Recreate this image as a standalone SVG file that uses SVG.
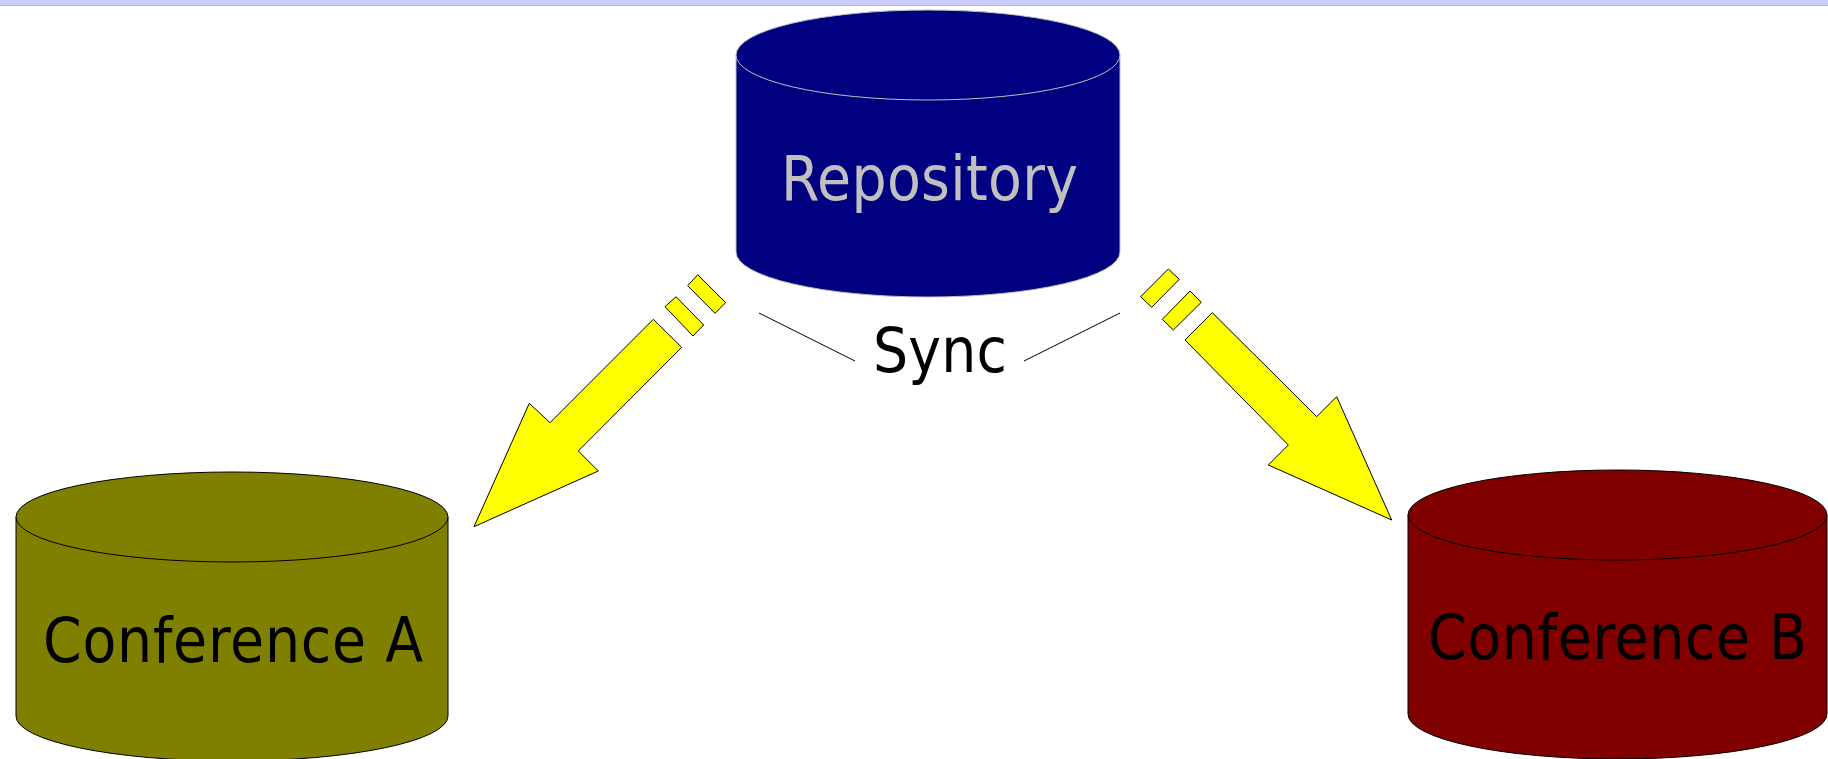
<svg xmlns="http://www.w3.org/2000/svg" width="1828" height="759" viewBox="0 0 1828 759">
<style>
.lbl{font-family:"DejaVu Sans Condensed","DejaVu Sans",sans-serif;font-size:61.5px;text-anchor:middle}
.arrow{fill:#ffff00;stroke:#000;stroke-width:1}
.line{stroke:#000;stroke-width:1;fill:none}
</style>
<rect x="0" y="0" width="1828" height="5" fill="#ccccff"/>
<line x1="0" y1="5.5" x2="1828" y2="5.5" stroke="#b4b4cc" stroke-width="1"/>
<g id="repository">
<path d="M736,55 L736,252 A192,45 0 0 0 1120,252 L1120,55 Z" fill="#000080" stroke="#c0c0c0" stroke-width="1"/>
<ellipse cx="928" cy="55" rx="192" ry="45" fill="#000080" stroke="#c0c0c0" stroke-width="1"/>
<text class="lbl" x="929.5" y="200" fill="#c0c0c0" textLength="297">Repository</text>
</g>
<g id="conference-a">
<path d="M16,517 L16,716 A216,45 0 0 0 448,716 L448,517 Z" fill="#808000" stroke="#000" stroke-width="1"/>
<ellipse cx="232" cy="517" rx="216" ry="45" fill="#808000" stroke="#000" stroke-width="1"/>
<text class="lbl" x="233" y="662" fill="#000" textLength="380">Conference A</text>
</g>
<g id="conference-b">
<path d="M1408,515 L1408,714 A209.5,45 0 0 0 1827,714 L1827,515 Z" fill="#800000" stroke="#000" stroke-width="1"/>
<ellipse cx="1617.5" cy="515" rx="209.5" ry="45" fill="#800000" stroke="#000" stroke-width="1"/>
<text class="lbl" x="1617.5" y="659" fill="#000" textLength="379">Conference B</text>
</g>
<g id="connectors">
<g id="arrow-a">
<polygon class="arrow" points="653.3,319.3 681.7,347.3 578.3,451 598.3,471 474,526.7 529.3,403.3 550,422.7"/>
<polygon class="arrow" points="665,306.7 676,296.7 703.7,325 693,336"/>
<polygon class="arrow" points="687.7,285.7 697.7,274.7 725.7,302.7 715,313.3"/>
</g>
<g id="arrow-b">
<polygon class="arrow" points="1185,340 1212.3,312.7 1316.7,416.7 1336.7,396.7 1391.7,520 1268.3,465 1288.3,445"/>
<polygon class="arrow" points="1140.7,296.7 1168.3,269 1179.3,279.3 1151.7,307.3"/>
<polygon class="arrow" points="1162.3,319.3 1190,291 1201.3,302.3 1173.3,330"/>
</g>
<line class="line" x1="759" y1="313" x2="855" y2="361"/>
<line class="line" x1="1024" y1="361" x2="1120" y2="313"/>
<text class="lbl" x="940" y="372" fill="#000" textLength="134">Sync</text>
</g>
</svg>
